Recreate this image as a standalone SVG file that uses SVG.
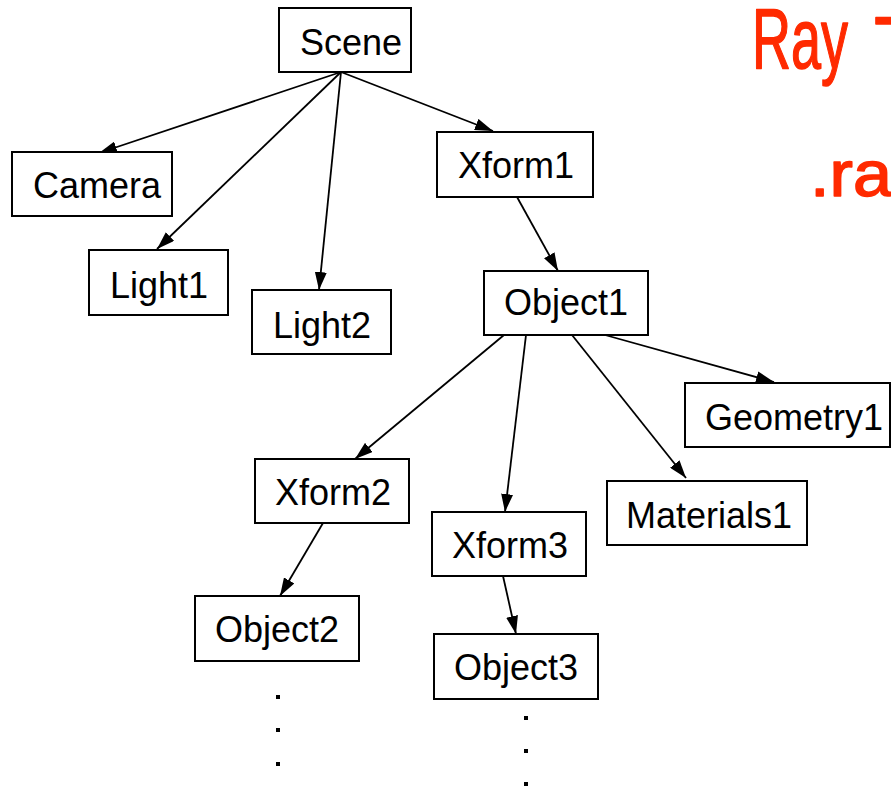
<svg xmlns="http://www.w3.org/2000/svg" width="891" height="787" viewBox="0 0 891 787">
<defs>
<marker id="arr" viewBox="0 0 18 12" refX="18" refY="6" markerWidth="18" markerHeight="12" markerUnits="userSpaceOnUse" orient="auto">
<path d="M0,0 L18,6 L0,12 Z" fill="#000"/>
</marker>
<style>
.box{fill:#fff;stroke:#000;stroke-width:2}
.lbl{font-family:"Liberation Sans",Arial,sans-serif;font-size:36px;fill:#000}
.edge{stroke:#000;stroke-width:1.8;fill:none;marker-end:url(#arr)}
.dot{fill:#000}
.hand{font-family:"Liberation Sans",Arial,sans-serif;fill:#ff2a00;stroke:#ff2a00;stroke-width:1.5;stroke-linejoin:round}
</style>
</defs>
<rect width="891" height="787" fill="#fff"/>
<g id="connectors">
<line class="edge" x1="341" y1="72" x2="99" y2="153"/>
<line class="edge" x1="341" y1="72" x2="157" y2="249"/>
<line class="edge" x1="341" y1="72" x2="319" y2="290"/>
<line class="edge" x1="341" y1="72" x2="493" y2="131"/>
<line class="edge" x1="517" y1="197" x2="558" y2="271"/>
<line class="edge" x1="504" y1="335" x2="355" y2="459"/>
<line class="edge" x1="526" y1="335" x2="505" y2="512"/>
<line class="edge" x1="572" y1="335" x2="686" y2="478"/>
<line class="edge" x1="605" y1="335" x2="774" y2="382"/>
<line class="edge" x1="323" y1="523" x2="280" y2="596"/>
<line class="edge" x1="503" y1="576" x2="516" y2="634"/>
</g>
<g id="scene"><rect class="box" x="279" y="8" width="132" height="64"/><text class="lbl" x="300" y="55">Scene</text></g>
<g id="camera"><rect class="box" x="12" y="152" width="160" height="64"/><text class="lbl" x="33" y="198">Camera</text></g>
<g id="light1"><rect class="box" x="89" y="250" width="139" height="65"/><text class="lbl" x="110" y="298">Light1</text></g>
<g id="light2"><rect class="box" x="252" y="290" width="139" height="64"/><text class="lbl" x="273" y="338">Light2</text></g>
<g id="xform1"><rect class="box" x="437" y="132" width="156" height="65"/><text class="lbl" x="458" y="178">Xform1</text></g>
<g id="object1"><rect class="box" x="484" y="271" width="164" height="64"/><text class="lbl" x="504" y="315">Object1</text></g>
<g id="geometry1"><rect class="box" x="685" y="383" width="205" height="64"/><text class="lbl" x="705" y="430">Geometry1</text></g>
<g id="materials1"><rect class="box" x="607" y="481" width="200" height="64"/><text class="lbl" x="626" y="528">Materials1</text></g>
<g id="xform2"><rect class="box" x="255" y="459" width="154" height="64"/><text class="lbl" x="275" y="505">Xform2</text></g>
<g id="xform3"><rect class="box" x="432" y="512" width="154" height="64"/><text class="lbl" x="452" y="558">Xform3</text></g>
<g id="object2"><rect class="box" x="195" y="596" width="164" height="65"/><text class="lbl" x="215" y="642">Object2</text></g>
<g id="object3"><rect class="box" x="434" y="634" width="164" height="65"/><text class="lbl" x="454" y="680">Object3</text></g>
<g id="dots">
<rect class="dot" x="276" y="695" width="4" height="4"/>
<rect class="dot" x="276" y="728" width="4" height="4"/>
<rect class="dot" x="276" y="762" width="4" height="4"/>
<rect class="dot" x="524" y="716" width="4" height="4"/>
<rect class="dot" x="524" y="749" width="4" height="4"/>
<rect class="dot" x="524" y="782" width="4" height="4"/>
</g>
<g id="handwriting">
<text class="hand" x="752" y="68" font-size="86" textLength="96" lengthAdjust="spacingAndGlyphs">Ray</text>
<text class="hand" x="874" y="76" font-size="86">T</text>
<text class="hand" x="810" y="196" font-size="64" textLength="82" lengthAdjust="spacingAndGlyphs">.ra</text>
</g>
</svg>
